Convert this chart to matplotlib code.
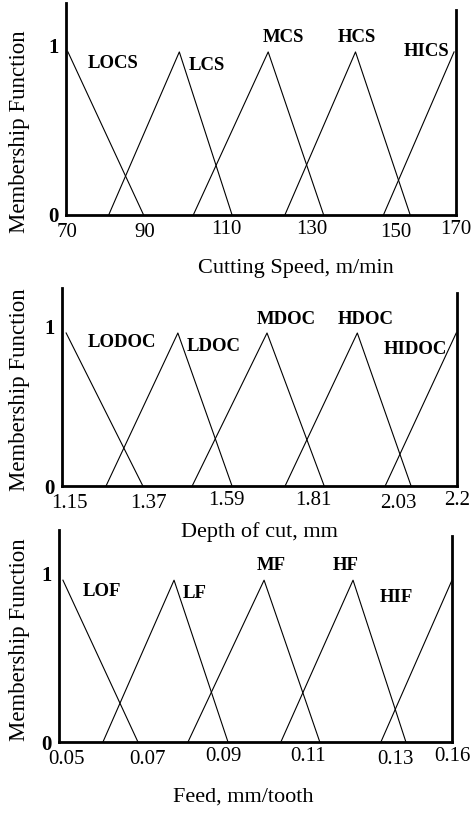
import matplotlib.pyplot as plt
from matplotlib.transforms import ScaledTranslation

plt.rcParams['font.family'] = ['Liberation Serif', 'DejaVu Serif']

# ---- data: triangle vertices (x, membership) ----
speed_names = ['LOCS', 'LCS', 'MCS', 'HCS', 'HICS']
speed_x = [[70.5, 90.0], [81.0, 99.2, 112.8], [102.8, 122.1, 136.4],
           [126.4, 144.6, 158.7], [151.8, 170.0]]
speed_y = [[1, 0], [0, 1, 0], [0, 1, 0], [0, 1, 0], [0, 1]]
speed_ticks = [70.3, 90.3, 111.3, 133.3, 154.9, 170.5]
speed_ticklabels = ['70', '90', '110', '130', '150', '170']

doc_names = ['LODOC', 'LDOC', 'MDOC', 'HDOC', 'HIDOC']
doc_x = [[1.161, 1.365], [1.267, 1.458, 1.602], [1.496, 1.695, 1.847],
         [1.743, 1.935, 2.078], [2.009, 2.198]]
doc_y = [[1, 0], [0, 1, 0], [0, 1, 0], [0, 1, 0], [0, 1]]
doc_ticks = [1.171, 1.381, 1.588, 1.817, 2.043, 2.200]
doc_ticklabels = ['1.15', '1.37', '1.59', '1.81', '2.03', '2.2']

feed_names = ['LOF', 'LF', 'MF', 'HF', 'HIF']
feed_x = [[0.0511, 0.0721], [0.0623, 0.0822, 0.0973], [0.0861, 0.1074, 0.1230],
          [0.1121, 0.1323, 0.1471], [0.1401, 0.1600]]
feed_y = [[1, 0], [0, 1, 0], [0, 1, 0], [0, 1, 0], [0, 1]]
feed_ticks = [0.0522, 0.0749, 0.0959, 0.1197, 0.1441, 0.1600]
feed_ticklabels = ['0.05', '0.07', '0.09', '0.11', '0.13', '0.16']

W, H = 471, 816
fig = plt.figure(figsize=(W / 100, H / 100), dpi=100)


def panel(rect, xs, ys, names, name_px, ticks, ticklabels, xlim, ytop, rtop,
          xlabel, xlabel_px, ylabel_y):
    ax = fig.add_axes(rect)
    for x, y in zip(xs, ys):
        ax.plot(x, y, color='k', lw=0.8)
    ax.set_xlim(*xlim)
    ax.set_ylim(0, ytop)
    ax.spines['top'].set_visible(False)
    for s in ['left', 'right', 'bottom']:
        ax.spines[s].set_linewidth(2.0)
    ax.spines['right'].set_bounds(0, rtop)
    ax.set_xticks(ticks)
    ax.set_xticklabels(ticklabels, fontsize=15)
    ax.set_yticks([0, 1.04])
    ax.set_yticklabels(['0', '1'], fontsize=15, fontweight='bold')
    ax.tick_params(length=0, pad=6)
    ax.tick_params(axis='y', pad=5)
    # alternate tick labels sit slightly higher
    for i, lab in enumerate(ax.get_xticklabels()):
        if i in (2, 3, 5):
            lab.set_transform(lab.get_transform() +
                              ScaledTranslation(0, 0.03, fig.dpi_scale_trans))
    for n, (px, py) in zip(names, name_px):
        fig.text(px / W, 1 - py / H, n, ha='center', va='center',
                 fontsize=13.5, fontweight='bold')
    fig.text(xlabel_px[0] / W, 1 - xlabel_px[1] / H, xlabel,
             ha='center', va='center', fontsize=16)
    fig.text(20 / W, 1 - ylabel_y / H, 'Membership Function', rotation=90,
             ha='center', va='center', fontsize=16.5)
    return ax


panel([66 / W, 1 - 215 / H, 390 / W, 212 / H], speed_x, speed_y, speed_names,
      [(113, 63), (207, 65), (283, 38), (357, 38), (427, 52)],
      speed_ticks, speed_ticklabels, (70, 170), 1.30, 1.26,
      'Cutting Speed, m/min', (296, 268), 132)

panel([62 / W, 1 - 486 / H, 395 / W, 198 / H], doc_x, doc_y, doc_names,
      [(122, 342), (214, 346), (286, 320), (366, 320), (415, 349)],
      doc_ticks, doc_ticklabels, (1.15, 2.2), 1.294, 1.26,
      'Depth of cut, mm', (259, 532), 390)

panel([59 / W, 1 - 742 / H, 393 / W, 212 / H], feed_x, feed_y, feed_names,
      [(102, 592), (195, 593), (271, 566), (346, 566), (396, 597)],
      feed_ticks, feed_ticklabels, (0.05, 0.16), 1.31, 1.27,
      'Feed, mm/tooth', (243, 797), 640)

fig.savefig('out.png', dpi=100)
